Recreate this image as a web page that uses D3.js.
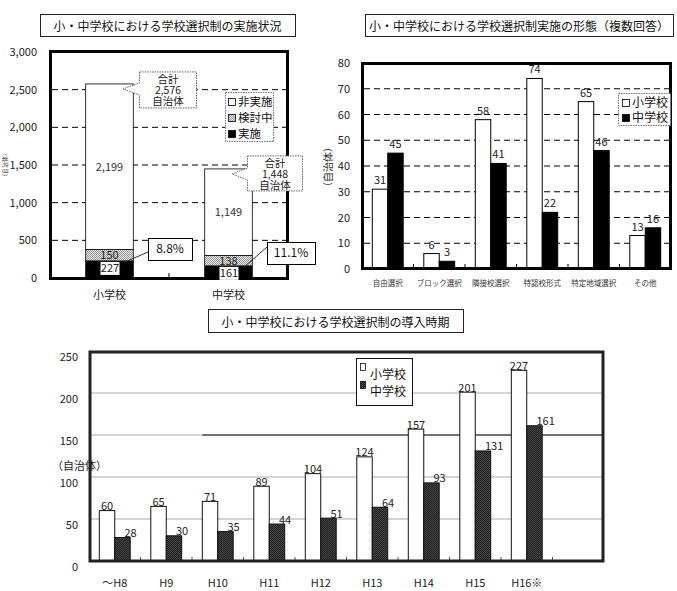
<!DOCTYPE html>
<html>
<head>
<meta charset="utf-8">
<script src="https://cdnjs.cloudflare.com/ajax/libs/d3/7.8.5/d3.min.js"></script>
<style>
  body { margin: 0; background: #fff; }
  svg { display: block; font-family: 'Noto Sans CJK JP', sans-serif; }
</style>
</head>
<body>
<div id="vis"></div>
<script>
// 実施状況
var c1Cats = ['小学校', '中学校'];
var c1Done = [227, 161];
var c1Study = [150, 138];
var c1Not = [2199, 1149];
var c1Total = [2576, 1448];
var c1Rate = ['8.8%', '11.1%'];
var c1Legend = ['非実施', '検討中', '実施'];
var c1Ticks = [0, 500, 1000, 1500, 2000, 2500, 3000];

// 実施の形態
var c2Cats = ['自由選択', 'ブロック選択', '隣接校選択', '特認校形式', '特定地域選択', 'その他'];
var c2Elem = [31, 6, 58, 74, 65, 13];
var c2Junior = [45, 3, 41, 22, 46, 16];
var c2Ticks = [0, 10, 20, 30, 40, 50, 60, 70, 80];

// 導入時期
var c3Cats = ['～H8', 'H9', 'H10', 'H11', 'H12', 'H13', 'H14', 'H15', 'H16※'];
var c3Elem = [60, 65, 71, 89, 104, 124, 157, 201, 227];
var c3Junior = [28, 30, 35, 44, 51, 64, 93, 131, 161];
var c3Ticks = [0, 50, 100, 150, 200, 250];

var seriesNames = ['小学校', '中学校'];

var svg = d3.select('#vis').append('svg')
  .attr('width', 677)
  .attr('height', 591);

// 網掛けパターン
var defs = svg.append('defs');
var dots = defs.append('pattern').attr('id', 'dots')
  .attr('width', 2).attr('height', 2).attr('patternUnits', 'userSpaceOnUse');
dots.append('rect').attr('width', 2).attr('height', 2).attr('fill', '#e6e6e6');
dots.append('rect').attr('width', 1).attr('height', 1).attr('fill', '#999');
dots.append('rect').attr('x', 1).attr('y', 1).attr('width', 1).attr('height', 1).attr('fill', '#999');
var dark = defs.append('pattern').attr('id', 'dark')
  .attr('width', 2).attr('height', 2).attr('patternUnits', 'userSpaceOnUse');
dark.append('rect').attr('width', 2).attr('height', 2).attr('fill', '#111');
dark.append('rect').attr('x', 1).attr('width', 1).attr('height', 1).attr('fill', '#555');
dark.append('rect').attr('y', 1).attr('width', 1).attr('height', 1).attr('fill', '#555');

function titleBox(x, y, w, h, text) {
  svg.append('rect').attr('x', x + 0.5).attr('y', y + 0.5).attr('width', w).attr('height', h)
    .attr('fill', '#fff').attr('stroke', '#222');
  svg.append('text').attr('x', x + w / 2).attr('y', y + h / 2 + 2).attr('dy', '0.35em')
    .attr('text-anchor', 'middle').attr('font-size', 12).attr('fill', '#111').text(text);
}

// ---------- 図1 ----------
titleBox(40, 14, 255, 22, '小・中学校における学校選択制の実施状況');

var y1 = d3.scaleLinear().domain([0, 3000]).range([278, 52]);
var x1 = d3.scaleBand().domain(c1Cats).range([50, 288]).paddingInner(0.6).paddingOuter(0.3);

var g1 = svg.append('g');

g1.selectAll('.grid1')
  .data(c1Ticks.filter(function (t) { return t > 0 && t < 3000; }))
  .enter().append('line')
  .attr('x1', 52).attr('x2', 286)
  .attr('y1', function (d) { return y1(d); })
  .attr('y2', function (d) { return y1(d); })
  .attr('stroke', '#000').attr('stroke-dasharray', '6,4');

g1.append('g')
  .attr('transform', 'translate(50,0)')
  .call(d3.axisLeft(y1).tickValues(c1Ticks).tickFormat(d3.format(',')).tickSize(0).tickPadding(13))
  .call(function (g) { g.select('.domain').remove(); })
  .selectAll('text').attr('font-size', 11).attr('fill', '#222')
  .attr('font-family', "'Noto Sans CJK JP', sans-serif");

var rows1 = c1Cats.map(function (c, i) {
  return { cat: c, done: c1Done[i], study: c1Study[i], not: c1Not[i] };
});
var stack1 = d3.stack().keys(['done', 'study', 'not'])(rows1);
var fill1 = { done: '#000', study: 'url(#dots)', not: '#fff' };

g1.selectAll('.layer')
  .data(stack1)
  .enter().append('g')
  .attr('fill', function (d) { return fill1[d.key]; })
  .selectAll('rect')
  .data(function (d) { return d; })
  .enter().append('rect')
  .attr('x', function (d) { return x1(d.data.cat); })
  .attr('width', x1.bandwidth())
  .attr('y', function (d) { return y1(d[1]); })
  .attr('height', function (d) { return y1(d[0]) - y1(d[1]); })
  .attr('stroke', '#000').attr('stroke-width', 0.8);

// 下の目盛と枠 (吹き出しより先に描く)
g1.append('line').attr('x1', 169).attr('x2', 169).attr('y1', 277).attr('y2', 273).attr('stroke', '#000');
g1.append('rect').attr('x', 50.5).attr('y', 51.5).attr('width', 237).attr('height', 227)
  .attr('fill', 'none').attr('stroke', '#000').attr('stroke-width', 3);

// 凡例
g1.append('rect').attr('x', 225.5).attr('y', 92.5).attr('width', 48).attr('height', 49)
  .attr('fill', '#fff').attr('stroke', '#777').attr('stroke-dasharray', '1.5,1');
var legFill1 = ['#fff', 'url(#dots)', '#000'];
c1Legend.forEach(function (t, k) {
  var ly = 102 + k * 16;
  g1.append('rect').attr('x', 228.5).attr('y', ly - 3.5).attr('width', 7).attr('height', 7)
    .attr('fill', legFill1[k]).attr('stroke', '#000').attr('stroke-width', 0.8);
  g1.append('text').attr('x', 238).attr('y', ly).attr('dy', '0.35em')
    .attr('font-size', 11.5).attr('fill', '#111').text(t);
});

c1Cats.forEach(function (c, i) {
  var cx = x1(c) + x1.bandwidth() / 2;
  var base = c1Done[i] + c1Study[i];
  // 非実施・検討中の数値
  g1.append('text').attr('x', cx).attr('y', y1(base + c1Not[i] / 2)).attr('dy', '0.35em')
    .attr('text-anchor', 'middle').attr('font-size', 11).attr('fill', '#333')
    .text(d3.format(',')(c1Not[i]));
  g1.append('text').attr('x', cx).attr('y', y1(c1Done[i] + c1Study[i] / 2)).attr('dy', '0.35em')
    .attr('text-anchor', 'middle').attr('font-size', 11).attr('fill', '#222')
    .text(c1Study[i]);
  // 実施の数値 (白抜き)
  var top = y1(c1Done[i]);
  g1.append('rect').attr('x', cx - 9).attr('y', top + 1).attr('width', 19).attr('height', 13)
    .attr('fill', '#fff');
  g1.append('text').attr('x', cx + 0.5).attr('y', top + 7.5).attr('dy', '0.35em')
    .attr('text-anchor', 'middle').attr('font-size', 11).attr('fill', '#222')
    .text(c1Done[i]);

  // 割合のボックスと引出線
  var right = x1(c) + x1.bandwidth();
  var bx = [148, 267][i], by = [238, 242][i];
  g1.append('line').attr('x1', bx).attr('y1', by + [14, 5][i])
    .attr('x2', right - 8).attr('y2', top + 1)
    .attr('stroke', '#333');
  g1.append('rect').attr('x', bx + 0.5).attr('y', by + 0.5).attr('width', [44, 48][i]).attr('height', 22)
    .attr('fill', '#fff').attr('stroke', '#000');
  g1.append('text').attr('x', bx + [22, 24][i]).attr('y', by + 11).attr('dy', '0.35em')
    .attr('text-anchor', 'middle').attr('font-size', 12).attr('fill', '#111')
    .text(c1Rate[i]);

  // 合計の吹き出し
  var bt = y1(c1Total[i]);
  var x0 = cx + [30, 19][i], w = [57, 55][i], yt = bt - [12, 13][i], h = [36, 35][i];
  var tipX = cx + [13.5, 3.5][i];
  var callout = 'M' + x0 + ',' + yt + 'H' + (x0 + w) + 'V' + (yt + h) + 'H' + x0 +
    'V' + (bt + 11) + 'L' + tipX + ',' + (bt + 5) + 'L' + x0 + ',' + (bt - 1) + 'Z';
  g1.append('path').attr('d', callout)
    .attr('fill', '#fff').attr('stroke', '#666').attr('stroke-dasharray', '1.5,1');
  ['合計', d3.format(',')(c1Total[i]), '自治体'].forEach(function (t, k) {
    g1.append('text').attr('x', x0 + w / 2).attr('y', yt + 7 + k * 11).attr('dy', '0.35em')
      .attr('text-anchor', 'middle').attr('font-size', 10.5).attr('fill', '#222').text(t);
  });

  // 項目名
  g1.append('text').attr('x', cx).attr('y', 295).attr('dy', '0.35em')
    .attr('text-anchor', 'middle').attr('font-size', 11).attr('fill', '#222').text(c);
});

g1.append('text').attr('transform', 'translate(5,165) rotate(-90)').attr('dy', '0.35em')
  .attr('text-anchor', 'middle').attr('font-size', 6).attr('fill', '#444').text('（自治体）');

// ---------- 図2 ----------
titleBox(365, 14, 308, 22, '小・中学校における学校選択制実施の形態（複数回答）');

var y2 = d3.scaleLinear().domain([0, 80]).range([269, 63]);
var x2 = d3.scaleBand().domain(c2Cats).range([362, 671]).paddingInner(0.4).paddingOuter(0.2);
var x2s = d3.scaleBand().domain(seriesNames).range([0, x2.bandwidth()]);
var g2 = svg.append('g');

g2.selectAll('.grid2')
  .data(c2Ticks.filter(function (t) { return t > 0 && t < 80; }))
  .enter().append('line')
  .attr('x1', 364).attr('x2', 669)
  .attr('y1', function (d) { return y2(d); })
  .attr('y2', function (d) { return y2(d); })
  .attr('stroke', '#000').attr('stroke-dasharray', '6,4');

g2.append('g')
  .attr('transform', 'translate(362,0)')
  .call(d3.axisLeft(y2).tickValues(c2Ticks).tickSize(0).tickPadding(12))
  .call(function (g) { g.select('.domain').remove(); })
  .selectAll('text').attr('font-size', 11).attr('fill', '#222')
  .attr('font-family', "'Noto Sans CJK JP', sans-serif");

var rows2 = c2Cats.map(function (c, i) { return { cat: c, vals: [c2Elem[i], c2Junior[i]] }; });
var grp2 = g2.selectAll('.grp2').data(rows2).enter().append('g')
  .attr('transform', function (d) { return 'translate(' + x2(d.cat) + ',0)'; });

grp2.selectAll('rect')
  .data(function (d) { return d.vals.map(function (v, k) { return { s: seriesNames[k], v: v }; }); })
  .enter().append('rect')
  .attr('x', function (d) { return x2s(d.s); })
  .attr('width', x2s.bandwidth())
  .attr('y', function (d) { return y2(d.v); })
  .attr('height', function (d) { return y2(0) - y2(d.v); })
  .attr('fill', function (d, k) { return k === 0 ? '#fff' : '#000'; })
  .attr('stroke', '#000').attr('stroke-width', 1);

grp2.selectAll('.val')
  .data(function (d) { return d.vals.map(function (v, k) { return { s: seriesNames[k], v: v }; }); })
  .enter().append('text')
  .attr('x', function (d) { return x2s(d.s) + x2s.bandwidth() / 2; })
  .attr('y', function (d) { return y2(d.v) - 5; })
  .attr('text-anchor', 'middle').attr('font-size', 11).attr('fill', '#222')
  .text(function (d) { return d.v; });

g2.selectAll('.xl2').data(c2Cats).enter().append('text')
  .attr('x', function (d) { return x2(d) + x2.bandwidth() / 2; })
  .attr('y', 283).attr('dy', '0.35em')
  .attr('text-anchor', 'middle').attr('font-size', 7.5).attr('fill', '#333')
  .text(function (d) { return d; });

// 区切り目盛
g2.selectAll('.tk2').data(d3.range(1, c2Cats.length)).enter().append('line')
  .attr('x1', function (k) { return 362 + x2.step() * k; })
  .attr('x2', function (k) { return 362 + x2.step() * k; })
  .attr('y1', 268).attr('y2', 264).attr('stroke', '#000');

g2.append('rect').attr('x', 362.5).attr('y', 63.5).attr('width', 308).attr('height', 205)
  .attr('fill', 'none').attr('stroke', '#000').attr('stroke-width', 3);

g2.append('rect').attr('x', 618.5).attr('y', 93.5).attr('width', 52).attr('height', 32)
  .attr('fill', '#fff').attr('stroke', '#777').attr('stroke-dasharray', '1.5,1');
seriesNames.forEach(function (t, k) {
  var ly = 103 + k * 15;
  g2.append('rect').attr('x', 622.5).attr('y', ly - 3.5).attr('width', 7).attr('height', 7)
    .attr('fill', k === 0 ? '#fff' : '#000').attr('stroke', '#000').attr('stroke-width', 0.8);
  g2.append('text').attr('x', 632).attr('y', ly).attr('dy', '0.35em')
    .attr('font-size', 12).attr('fill', '#111').text(t);
});

g2.append('text').attr('transform', 'translate(328,167) rotate(-90)').attr('dy', '0.35em')
  .attr('text-anchor', 'middle').attr('font-size', 10).attr('fill', '#222').text('（自治体）');

// ---------- 図3 ----------
titleBox(208, 309, 255, 23, '小・中学校における学校選択制の導入時期');

var y3 = d3.scaleLinear().domain([0, 250]).range([561, 351]);
var x3 = d3.scaleBand().domain(c3Cats.concat([''])).range([89, 604]).paddingInner(0.4).paddingOuter(0.2);
var x3s = d3.scaleBand().domain(seriesNames).range([0, x3.bandwidth()]);
var g3 = svg.append('g');

g3.selectAll('.grid3')
  .data(c3Ticks.filter(function (t) { return t > 0 && t < 250; }))
  .enter().append('line')
  .attr('x1', 91).attr('x2', 602)
  .attr('y1', function (d) { return y3(d); })
  .attr('y2', function (d) { return y3(d); })
  .attr('stroke', '#aaa').attr('stroke-width', 1.2);
g3.append('line').attr('x1', x3('H10')).attr('x2', 602)
  .attr('y1', y3(150)).attr('y2', y3(150)).attr('stroke', '#111');

g3.selectAll('.yl3').data(c3Ticks).enter().append('text')
  .attr('x', 78).attr('y', function (d) { return y3(d) + 6; }).attr('dy', '0.35em')
  .attr('text-anchor', 'end').attr('font-size', 11).attr('fill', '#222')
  .text(function (d) { return d; });

var rows3 = c3Cats.map(function (c, i) { return { cat: c, vals: [c3Elem[i], c3Junior[i]] }; });
var grp3 = g3.selectAll('.grp3').data(rows3).enter().append('g')
  .attr('transform', function (d) { return 'translate(' + x3(d.cat) + ',0)'; });

grp3.selectAll('rect')
  .data(function (d) { return d.vals.map(function (v, k) { return { s: seriesNames[k], v: v }; }); })
  .enter().append('rect')
  .attr('x', function (d) { return x3s(d.s); })
  .attr('width', x3s.bandwidth())
  .attr('y', function (d) { return y3(d.v); })
  .attr('height', function (d) { return y3(0) - y3(d.v); })
  .attr('fill', function (d, k) { return k === 0 ? '#fff' : 'url(#dark)'; })
  .attr('stroke', '#111').attr('stroke-width', 1);

grp3.selectAll('.val')
  .data(function (d) { return d.vals.map(function (v, k) { return { s: seriesNames[k], v: v }; }); })
  .enter().append('text')
  .attr('x', function (d, k) {
    return k === 0 ? x3s(d.s) + x3s.bandwidth() / 2 : x3s(d.s) + x3s.bandwidth() / 2 + 2;
  })
  .attr('y', function (d) { return y3(d.v) - 0.5; })
  .attr('text-anchor', function (d, k) { return k === 0 ? 'middle' : 'start'; })
  .attr('font-size', 11).attr('fill', '#222')
  .text(function (d) { return d.v; });

g3.selectAll('.xl3').data(c3Cats).enter().append('text')
  .attr('x', function (d) { return x3(d) + x3.bandwidth() / 2; })
  .attr('y', 583).attr('dy', '0.35em')
  .attr('text-anchor', 'middle').attr('font-size', 11).attr('fill', '#222')
  .text(function (d) { return d; });

g3.selectAll('.tk3').data(d3.range(1, c3Cats.length + 1)).enter().append('line')
  .attr('x1', function (k) { return 89 + x3.step() * k; })
  .attr('x2', function (k) { return 89 + x3.step() * k; })
  .attr('y1', 560).attr('y2', 557).attr('stroke', '#555');

g3.append('rect').attr('x', 356.5).attr('y', 358.5).attr('width', 56).attr('height', 47)
  .attr('fill', '#fff').attr('stroke', '#111');
seriesNames.forEach(function (t, k) {
  g3.append('rect').attr('x', 360.5).attr('y', 363.5 + k * 18).attr('width', 5).attr('height', 7)
    .attr('fill', k === 0 ? '#fff' : 'url(#dark)').attr('stroke', '#111').attr('stroke-width', 0.8);
  g3.append('text').attr('x', 370).attr('y', 375 + k * 17).attr('dy', '0.35em')
    .attr('font-size', 12).attr('fill', '#111').text(t);
});

g3.append('rect').attr('x', 90).attr('y', 352).attr('width', 513).attr('height', 209)
  .attr('fill', 'none').attr('stroke', '#222').attr('stroke-width', 3);

g3.append('text').attr('x', 52).attr('y', 466).attr('dy', '0.35em')
  .attr('font-size', 11).attr('fill', '#222').text('（自治体）');
</script>
</body>
</html>
